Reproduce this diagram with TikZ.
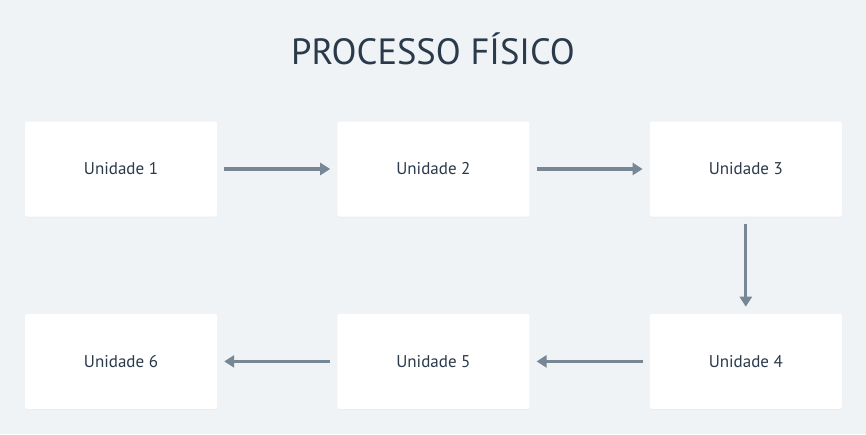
\documentclass[tikz,border=0pt]{standalone}
\usepackage{fontspec}
\setmainfont{PT Sans}
\usepackage{tikz}
\usetikzlibrary{arrows.meta}
\usetikzlibrary{positioning}
\usetikzlibrary{shadows}

\definecolor{bgcol}{HTML}{F0F3F6}
\definecolor{textcol}{HTML}{2A3A4A}
\definecolor{arrowcol}{HTML}{788796}

\begin{document}
\begin{tikzpicture}[x=1pt,y=-1pt,
    unit box/.style={fill=white,rounded corners=2pt,minimum width=192pt,minimum height=95pt,
        inner sep=0pt,font=\fontsize{17}{19}\selectfont,text=textcol,
        drop shadow={opacity=0.04,shadow xshift=0pt,shadow yshift=-1pt}},
    flow arrow/.style={arrowcol,line width=3.2pt,-{Triangle[length=10pt,width=12pt]},shorten <=7pt,shorten >=7pt},
    node distance=120pt]
\fill[bgcol] (0,0) rectangle (866,434); %background
\useasboundingbox (0,0) rectangle (866,434);
\node[text=textcol,font=\fontsize{36.5}{42}\selectfont] (title) at (433,49) {PROCESSO FÍSICO};
% first row
\node[unit box] (u1) at (121,169) {Unidade 1};
\node[unit box,right=of u1] (u2) {Unidade 2};
\node[unit box,right=of u2] (u3) {Unidade 3};
% second row
\node[unit box,below=97pt of u3] (u4) {Unidade 4};
\node[unit box,left=of u4] (u5) {Unidade 5};
\node[unit box,left=of u5] (u6) {Unidade 6};
% connectors
\draw[flow arrow] (u1) -- (u2);
\draw[flow arrow] (u2) -- (u3);
\draw[flow arrow] (u3) -- (u4);
\draw[flow arrow] (u4) -- (u5);
\draw[flow arrow] (u5) -- (u6);
\end{tikzpicture}
\end{document}
